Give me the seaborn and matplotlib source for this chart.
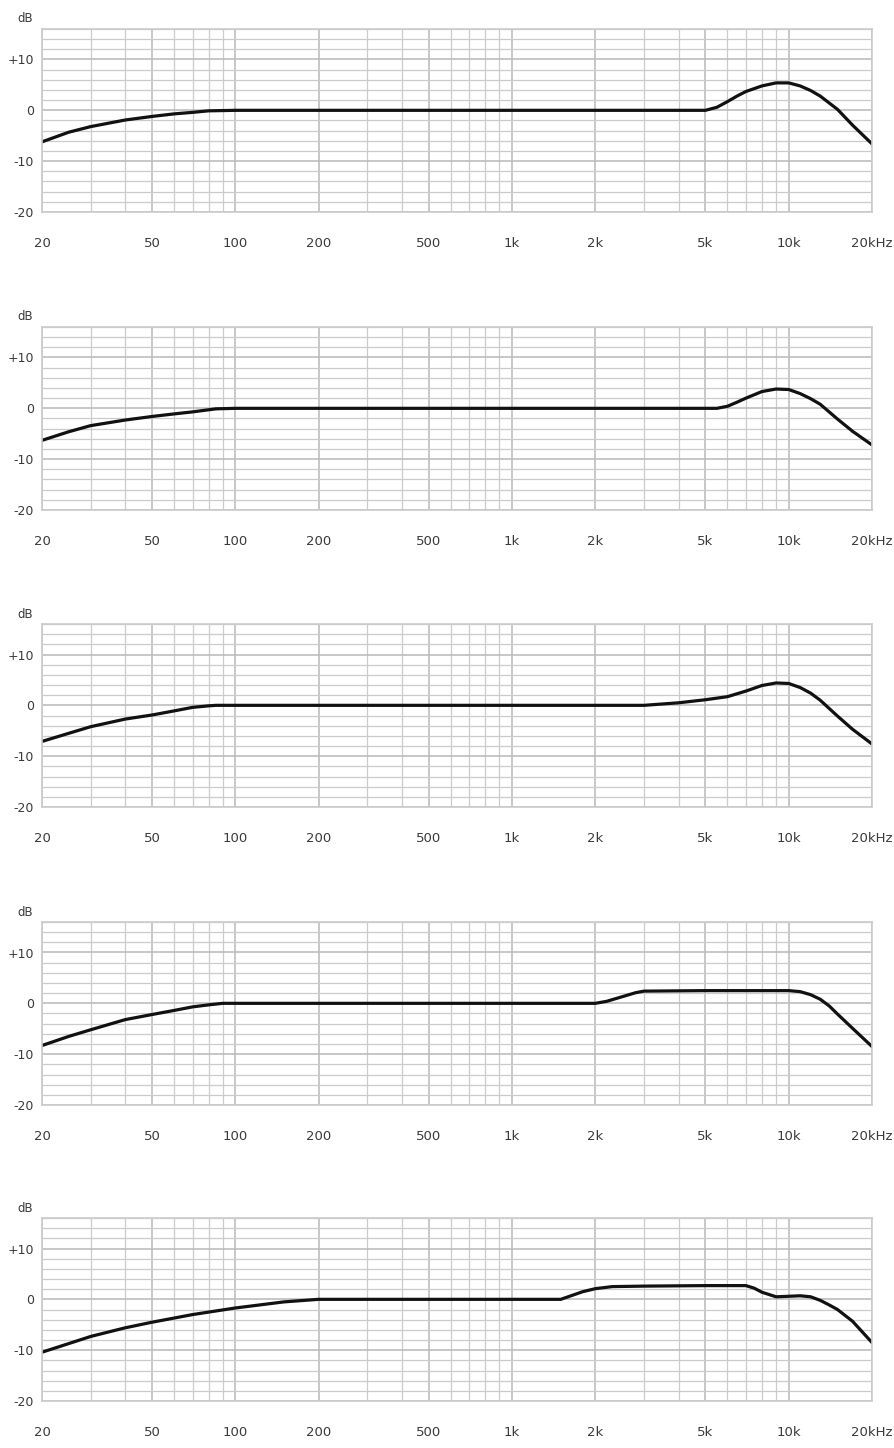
import matplotlib
matplotlib.use('Agg')
import matplotlib.pyplot as plt
from matplotlib.ticker import NullFormatter
import seaborn as sns

#---------------------------------------------------------
# frequency response curves (Hz, dB)
freq_1=[20, 25, 30, 40, 50, 60, 70, 80, 100, 200, 500, 1000, 2000, 5000, 5500, 6000, 6500, 7000, 8000, 9000, 10000, 11000, 12000, 13000, 15000, 17000, 20000]
db_1=[-6.2, -4.3, -3.2, -1.9, -1.2, -0.7, -0.4, -0.1, 0, 0, 0, 0, 0, 0, 0.6, 1.7, 2.8, 3.7, 4.8, 5.4, 5.4, 4.8, 3.9, 2.8, 0.2, -2.9, -6.6]

freq_2=[20, 25, 30, 40, 50, 60, 70, 85, 100, 1000, 5000, 5500, 6000, 6500, 7000, 8000, 9000, 10000, 11000, 12000, 13000, 15000, 17000, 20000]
db_2=[-6.3, -4.6, -3.4, -2.3, -1.6, -1.1, -0.7, -0.1, 0, 0, 0, 0, 0.4, 1.2, 2.0, 3.3, 3.8, 3.7, 2.9, 1.9, 0.8, -2.1, -4.5, -7.2]

freq_3=[20, 25, 30, 40, 50, 60, 70, 80, 85, 100, 1000, 3000, 4000, 5000, 6000, 7000, 8000, 9000, 10000, 11000, 12000, 13000, 15000, 17000, 20000]
db_3=[-7.1, -5.5, -4.2, -2.7, -1.9, -1.1, -0.4, -0.1, 0, 0, 0, 0, 0.5, 1.1, 1.7, 2.8, 3.9, 4.4, 4.3, 3.5, 2.4, 1.0, -2.1, -4.7, -7.6]

freq_4=[20, 25, 30, 40, 50, 60, 70, 80, 90, 100, 1000, 2000, 2200, 2500, 2800, 3000, 5000, 10000, 11000, 12000, 13000, 14000, 15000, 17000, 20000]
db_4=[-8.3, -6.5, -5.2, -3.2, -2.2, -1.4, -0.7, -0.3, 0, 0, 0, 0, 0.4, 1.3, 2.1, 2.4, 2.5, 2.5, 2.3, 1.7, 0.8, -0.5, -2.1, -4.9, -8.5]

freq_5=[20, 25, 30, 40, 50, 70, 100, 150, 200, 500, 1000, 1500, 1800, 2000, 2300, 3000, 5000, 7000, 7500, 8000, 9000, 10000, 11000, 12000, 13000, 14000, 15000, 17000, 20000]
db_5=[-10.4, -8.7, -7.3, -5.6, -4.5, -3.0, -1.7, -0.5, 0, 0, 0, 0, 1.5, 2.1, 2.5, 2.6, 2.7, 2.7, 2.2, 1.4, 0.5, 0.6, 0.7, 0.5, -0.2, -1.1, -2.0, -4.3, -8.5]

x_ticks=[20, 50, 100, 200, 500, 1000, 2000, 5000, 10000, 20000]
x_lbls=['20', '50', '100', '200', '500', '1k', '2k', '5k', '10k', '20kHz']
x_grid=[20, 30, 40, 50, 60, 70, 80, 90,
	100, 200, 300, 400, 500, 600, 700, 800, 900,
	1000, 2000, 3000, 4000, 5000, 6000, 7000, 8000, 9000,
	10000, 20000]
y_ticks=[-20, -10, 0, 10]
y_lbls=['-20', '-10', '0', '+10']
y_grid=list(range(-20, 17, 2))

curves=[(freq_1, db_1), (freq_2, db_2), (freq_3, db_3), (freq_4, db_4), (freq_5, db_5)]
bottoms_px=[212, 510, 807, 1105, 1401]

W, H=895, 1448
grid_c='#cbcbcb'
txt_c='#3a3a3a'

#--------------------------------------------------------
sns.set_style('white')
plt.rcParams['font.family']=['DejaVu Sans']

fig=plt.figure(figsize=(W/100, H/100), dpi=100)

for (f, d), b in zip(curves, bottoms_px):
	ax=fig.add_axes([42/W, 1-b/H, 830/W, 183/H])
	ax.set_xscale('log')
	sns.lineplot(x=f, y=d, ax=ax, color='#111111', lw=2.3)
	ax.set_xlim(20, 20000)
	ax.set_ylim(-20, 16)
	#grid
	ax.set_xticks(x_ticks)
	ax.set_xticklabels(x_lbls)
	ax.set_xticks(x_grid, minor=True)
	ax.xaxis.set_minor_formatter(NullFormatter())
	ax.set_yticks(y_ticks)
	ax.set_yticklabels(y_lbls)
	ax.set_yticks(y_grid, minor=True)
	ax.grid(True, which='minor', color=grid_c, lw=0.9)
	ax.grid(True, which='major', color='#bdbdbd', lw=1.2)
	ax.set_axisbelow(True)
	for s in ax.spines.values():
		s.set_color(grid_c)
		s.set_linewidth(1.2)
	ax.tick_params(axis='both', which='both', length=0)
	ax.tick_params(axis='x', pad=18, labelsize=9.5, labelcolor=txt_c)
	ax.tick_params(axis='y', pad=6, labelsize=9, labelcolor=txt_c)
	ax.annotate('dB', xy=(0, 1), xycoords='axes fraction', xytext=(-9, 10),
		textcoords='offset pixels', ha='right', va='center', fontsize=8.5, color=txt_c)

#save
plt.savefig('out.png', dpi=100)
plt.close()
